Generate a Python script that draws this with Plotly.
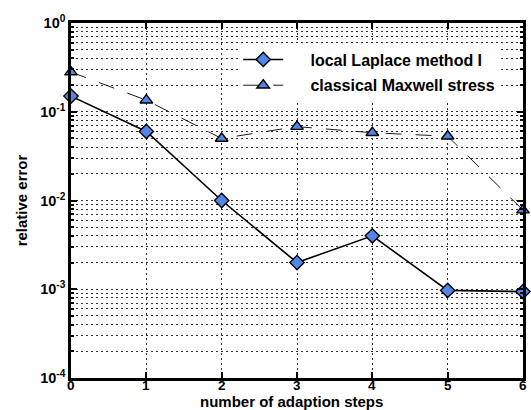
import plotly.graph_objects as go

# adaption step index
steps = [0, 1, 2, 3, 4, 5, 6]
# relative error per step
laplace_err = [0.15, 0.06, 0.010, 0.0020, 0.0040, 0.00097, 0.00094]
maxwell_err = [0.28, 0.135, 0.050, 0.068, 0.058, 0.053, 0.0078]

y_tickvals = [1e-4, 1e-3, 1e-2, 1e-1, 1]
y_ticktext = ["10<sup>-4</sup>", "10<sup>-3</sup>", "10<sup>-2</sup>",
              "10<sup>-1</sup>", "10<sup>0</sup>"]
# minor decades: 2..9 times each power of ten
y_minor = [m * 10.0 ** e for e in range(-4, 0) for m in range(2, 10)]

marker_fill = "#5286E6"
font_family = "Liberation Sans, Arial, sans-serif"
grid_color = "#333"
grid_dash = "2px,3px"

fig = go.Figure()
fig.add_trace(go.Scatter(
    x=steps, y=laplace_err, mode="lines+markers",
    name="     local Laplace method I", legendgroup="a",
    line=dict(color="black", width=1.6),
    marker=dict(symbol="diamond", size=11, color=marker_fill,
                line=dict(color="black", width=1.4)),
    cliponaxis=False,
))
fig.add_trace(go.Scatter(
    x=steps, y=maxwell_err, mode="lines+markers",
    name="     classical Maxwell stress", legendgroup="b",
    line=dict(color="black", width=0.9, dash="16px,14px"),
    marker=dict(symbol="triangle-up", size=11, color=marker_fill,
                line=dict(color="black", width=1.4)),
    cliponaxis=False,
))

# x tick labels placed tight under the axis, then the axis title below them
annotations = [dict(
    text=str(s), x=s, xref="x", yref="paper", y=-0.0225,
    xanchor="center", yanchor="middle", showarrow=False,
    font=dict(size=13.5, weight="bold"),
) for s in steps]
annotations.append(dict(
    text="number of adaption steps", xref="paper", yref="paper",
    x=0.487, y=-0.0662, xanchor="center", yanchor="middle",
    showarrow=False, font=dict(size=15, weight="bold"),
))

fig.update_layout(
    width=531, height=410,
    margin=dict(l=71, r=8, t=23, b=32),
    paper_bgcolor="white", plot_bgcolor="white",
    font=dict(family=font_family, size=12, color="black", weight="bold"),
    showlegend=True,
    legend=dict(
        x=0.37, y=0.945, xanchor="left", yanchor="top",
        bgcolor="white", borderwidth=0,
        font=dict(size=16, weight="bold"),
        itemwidth=40, tracegroupgap=2,
    ),
    xaxis=dict(
        range=[0, 6], tickvals=steps, showticklabels=False,
        showline=True, linecolor="black", linewidth=2.5, mirror="ticks",
        ticks="inside", ticklen=6, tickwidth=1.5, tickcolor="black",
        showgrid=True, gridcolor=grid_color, griddash=grid_dash, gridwidth=1,
        zeroline=False, automargin=False,
    ),
    yaxis=dict(
        type="log", range=[-4, 0],
        tickvals=y_tickvals, ticktext=y_ticktext,
        showline=True, linecolor="black", linewidth=2.5, mirror="ticks",
        ticks="inside", ticklen=6, tickwidth=1.5, tickcolor="black",
        showgrid=True, gridcolor=grid_color, griddash=grid_dash, gridwidth=1,
        zeroline=False, automargin=False,
        tickfont=dict(size=14.5, weight="bold"),
        title=dict(text="relative error", standoff=9,
                   font=dict(size=15, weight="bold")),
        minor=dict(tickvals=y_minor, ticks="inside", ticklen=3,
                   tickcolor="black", showgrid=True, gridcolor=grid_color,
                   griddash=grid_dash, gridwidth=1),
    ),
    annotations=annotations,
)

fig.write_html("out.html")
